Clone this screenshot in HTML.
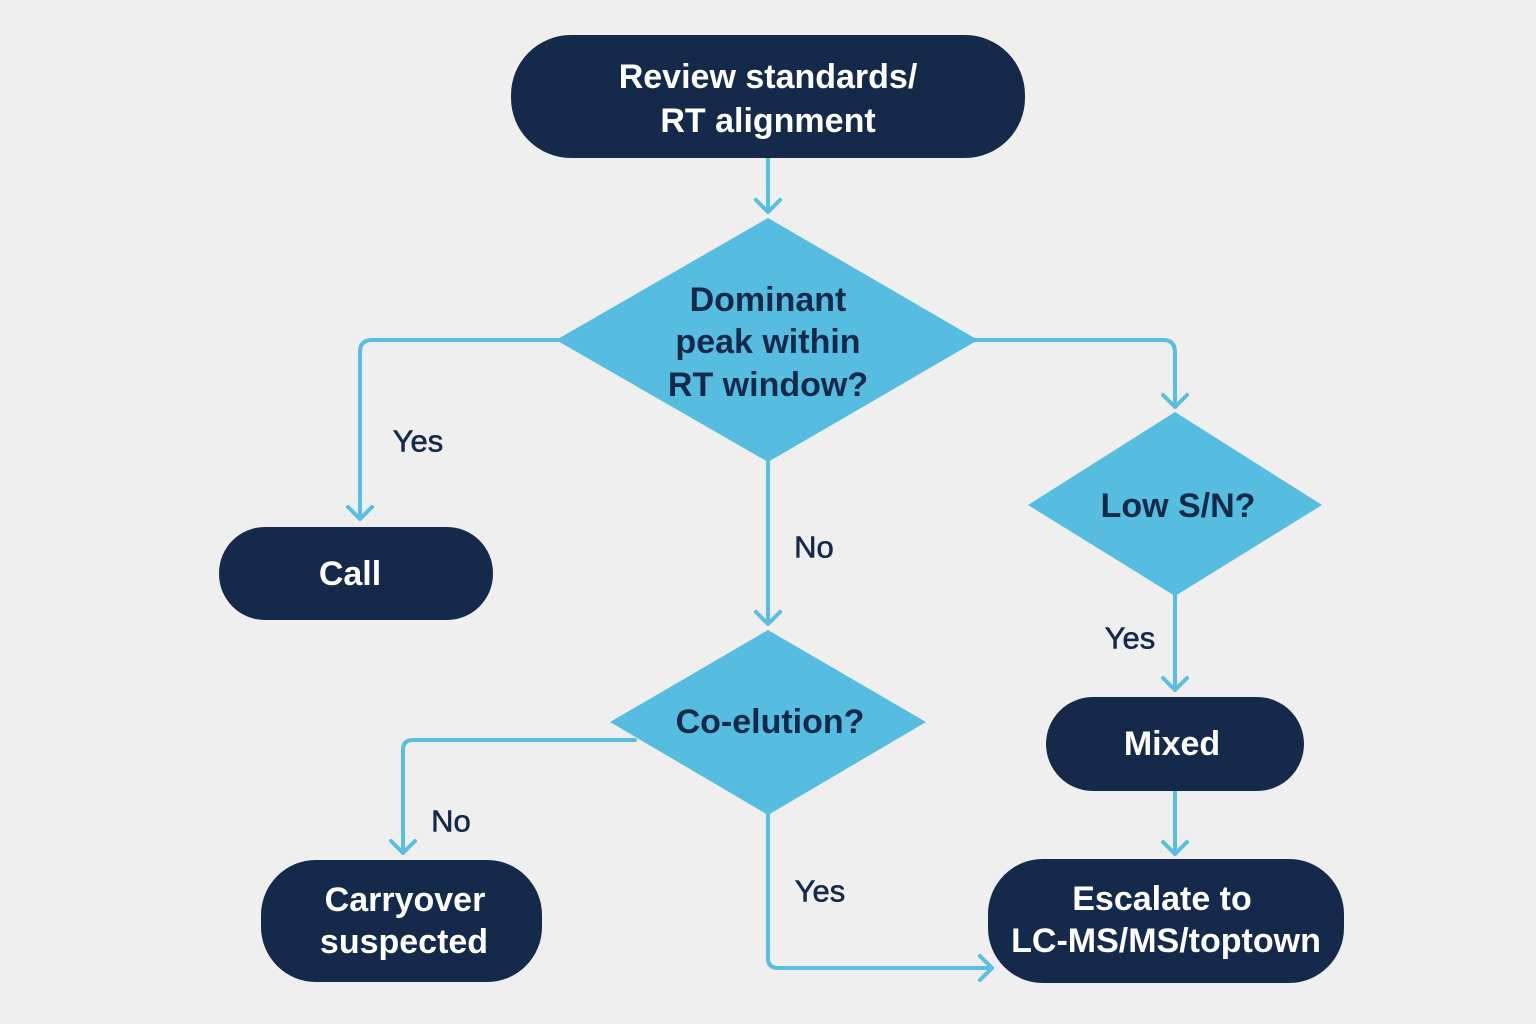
<!DOCTYPE html>
<html><head><meta charset="utf-8"><style>
html,body{margin:0;padding:0;background:#efefef;}
svg{display:block}
text{font-family:"Liberation Sans",sans-serif;text-anchor:middle;dominant-baseline:central}
.w{fill:#fff;font-size:34px;font-weight:bold}
.d{fill:#152a4a;font-size:34px;font-weight:bold}
.l{fill:#152a4a;font-size:31px;stroke:#152a4a;stroke-width:0.6}
</style></head><body>
<svg width="1536" height="1024" viewBox="0 0 1536 1024">
<g fill="none" stroke="#5bbde0" stroke-width="4" stroke-linecap="round" stroke-linejoin="round">
<path d="M768 158 V212"/><path d="M756 200 L768 212 L780 200"/>
<path d="M560 340 H372 Q360 340 360 352 V519"/><path d="M348 507 L360 519 L372 507"/>
<path d="M975 340 H1163 Q1175 340 1175 352 V407"/><path d="M1163 395 L1175 407 L1187 395"/>
<path d="M1175 596 V690"/><path d="M1163 678 L1175 690 L1187 678"/>
<path d="M1175 791 V854"/><path d="M1163 842 L1175 854 L1187 842"/>
<path d="M768 462 V624"/><path d="M756 612 L768 624 L780 612"/>
<path d="M635 740 H413 Q403 740 403 750 V853"/><path d="M391 841 L403 853 L415 841"/>
<path d="M768 815 V958 Q768 968 778 968 H992"/><path d="M980 956 L992 968 L980 980"/>
</g>
<rect x="511" y="35" width="514" height="123" rx="60" fill="#152a4a"/>
<text class="w" x="768" y="77">Review standards/</text>
<text class="w" x="768" y="121">RT alignment</text>
<polygon points="556,340 768,218 978,340 768,462" fill="#56bde0"/>
<text class="d" x="768" y="300">Dominant</text>
<text class="d" x="768" y="342">peak within</text>
<text class="d" x="768" y="385">RT window?</text>
<text class="l" x="418" y="441">Yes</text>
<rect x="219" y="527" width="274" height="93" rx="46" fill="#152a4a"/>
<text class="w" x="350" y="574">Call</text>
<polygon points="1028,505 1175,412 1322,505 1175,596" fill="#56bde0"/>
<text class="d" x="1178" y="506">Low S/N?</text>
<text class="l" x="1130" y="638">Yes</text>
<rect x="1046" y="697" width="258" height="94" rx="47" fill="#152a4a"/>
<text class="w" x="1172" y="744">Mixed</text>
<rect x="988" y="859" width="356" height="124" rx="55" fill="#152a4a"/>
<text class="w" x="1162" y="899">Escalate to</text>
<text class="w" x="1166" y="941">LC-MS/MS/toptown</text>
<text class="l" x="814" y="547">No</text>
<polygon points="610,722 768,630 926,722 768,815" fill="#56bde0"/>
<text class="d" x="770" y="722">Co-elution?</text>
<text class="l" x="451" y="821">No</text>
<rect x="261" y="860" width="281" height="122" rx="55" fill="#152a4a"/>
<text class="w" x="405" y="900">Carryover</text>
<text class="w" x="404" y="942">suspected</text>
<text class="l" x="820" y="891">Yes</text>
</svg>
</body></html>
